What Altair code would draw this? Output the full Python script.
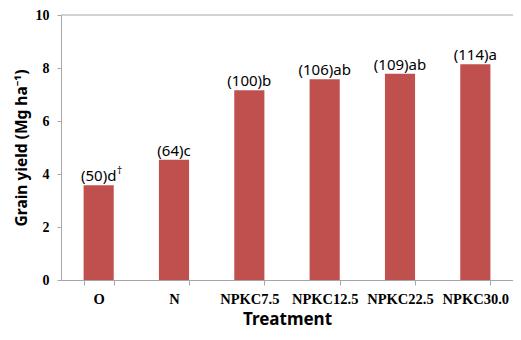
import altair as alt
import pandas as pd

treatments = ["O", "N", "NPKC7.5", "NPKC12.5", "NPKC22.5", "NPKC30.0"]
yields = [3.58, 4.54, 7.16, 7.58, 7.78, 8.14]
labels = ["(50)d", "(64)c", "(100)b", "(106)ab", "(109)ab", "(114)a"]
sups = ["†", "", "", "", "", ""]
y_ticks = [0, 2, 4, 6, 8, 10]

df = pd.DataFrame({"Treatment": treatments, "Yield": yields, "Label": labels, "Sup": sups})

GREY = "#a6a6a6"

x_enc = alt.X(
    "Treatment:N",
    sort=treatments,
    scale=alt.Scale(paddingInner=0.6, paddingOuter=0.3),
    axis=alt.Axis(
        title="Treatment",
        labelAngle=0,
        tickBand="extent",
        tickSize=5,
        labelPadding=7,
        titlePadding=6,
        labelFont="Liberation Serif",
        labelFontWeight="bold",
        labelFontSize=14.5,
        labelColor="black",
        titleFont="Noto Sans",
        titleFontWeight="bold",
        titleFontSize=17,
        titleColor="black",
        domainColor=GREY,
        tickColor=GREY,
    ),
)
y_enc = alt.Y(
    "Yield:Q",
    scale=alt.Scale(domain=[0, 10], nice=False),
    axis=alt.Axis(
        title="Grain yield (Mg ha⁻¹)",
        values=y_ticks,
        grid=False,
        tickSize=4,
        labelPadding=8,
        titlePadding=6,
        labelFont="Liberation Serif",
        labelFontWeight="bold",
        labelFontSize=14,
        labelColor="black",
        titleFont="Noto Sans",
        titleFontWeight="bold",
        titleFontSize=15.5,
        titleColor="black",
        domainColor=GREY,
        tickColor=GREY,
    ),
)

base = alt.Chart(df)
bars = base.mark_bar(color="#C0504D").encode(x=x_enc, y=y_enc)
text = base.mark_text(
    baseline="bottom", dy=-1, font="Noto Sans", fontSize=15, color="black"
).encode(x=alt.X("Treatment:N", sort=treatments), y="Yield:Q", text="Label:N")
sup = base.mark_text(
    baseline="bottom", dx=21, dy=-9, font="Noto Sans", fontSize=10, color="black"
).encode(x=alt.X("Treatment:N", sort=treatments), y="Yield:Q", text="Sup:N")
top = alt.Chart(pd.DataFrame({"top": [10]})).mark_rule(color=GREY, strokeWidth=1).encode(
    y="top:Q"
)

chart = (
    alt.layer(bars, text, sup, top)
    .properties(
        width=452,
        height=265,
        autosize=alt.AutoSizeParams(type="none"),
        padding={"left": 53, "top": 7, "right": 0, "bottom": 52},
    )
    .configure_view(stroke=None)
)

chart.save("out.html", embed_options={"renderer": "svg", "actions": False})
